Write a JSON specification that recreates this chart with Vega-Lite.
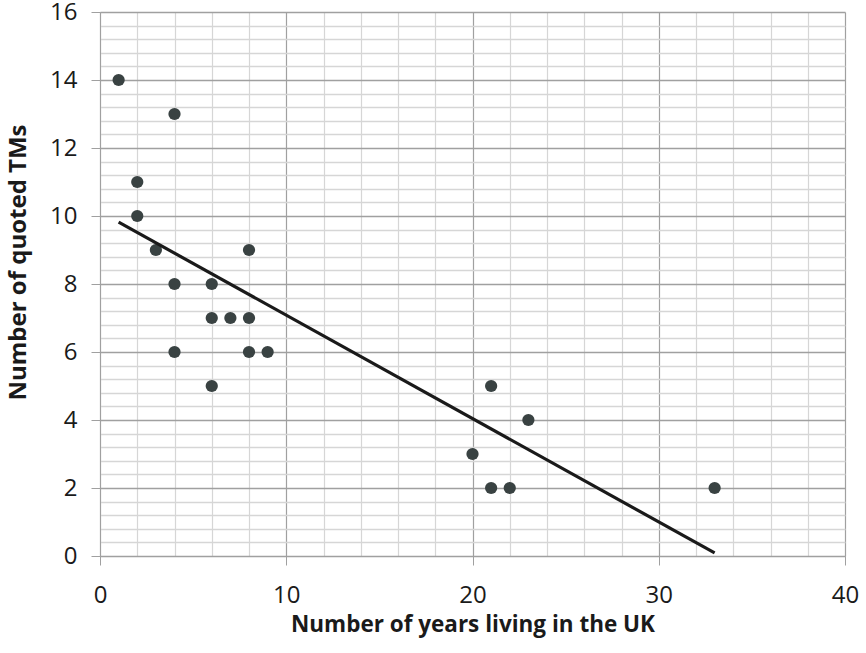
{
  "$schema": "https://vega.github.io/schema/vega-lite/v6.json",
  "width": 745,
  "height": 544,
  "autosize": {"type": "none"},
  "padding": {"left": 100, "top": 12, "right": 21, "bottom": 97},
  "background": "white",
  "config": {"view": {"stroke": null}},
  "datasets": {
    "points": [
      {"years": 1, "tms": 14},
      {"years": 4, "tms": 13},
      {"years": 2, "tms": 11},
      {"years": 2, "tms": 10},
      {"years": 3, "tms": 9},
      {"years": 4, "tms": 8},
      {"years": 4, "tms": 6},
      {"years": 6, "tms": 8},
      {"years": 6, "tms": 7},
      {"years": 7, "tms": 7},
      {"years": 8, "tms": 9},
      {"years": 8, "tms": 7},
      {"years": 8, "tms": 6},
      {"years": 9, "tms": 6},
      {"years": 6, "tms": 5},
      {"years": 20, "tms": 3},
      {"years": 21, "tms": 5},
      {"years": 21, "tms": 2},
      {"years": 22, "tms": 2},
      {"years": 23, "tms": 4},
      {"years": 33, "tms": 2}
    ],
    "trend": [
      {"years": 1, "tms": 9.82},
      {"years": 33, "tms": 0.09}
    ]
  },
  "encoding": {
    "x": {
      "field": "years", "type": "quantitative",
      "scale": {"domain": [0, 40], "nice": false, "zero": false},
      "axis": {
        "title": "Number of years living in the UK",
        "values": [0,2,4,6,8,10,12,14,16,18,20,22,24,26,28,30,32,34,36,38,40],
        "labelExpr": "datum.value % 10 === 0 ? datum.label : ''",
        "grid": true,
        "gridColor": {"condition": {"test": "datum.value % 10 === 0", "value": "#a0a0a0"}, "value": "#d6d6d6"},
        "gridWidth": 1.2,
        "tickOpacity": {"condition": {"test": "datum.value % 10 === 0", "value": 1}, "value": 0},
        "tickColor": "#a0a0a0",
        "tickSize": 9,
        "domainColor": "#a0a0a0",
        "labelFont": "Open Sans",
        "labelFontSize": 24,
        "labelColor": "#1a1a1a",
        "labelPadding": 18,
        "labelFlush": false,
        "labelOverlap": false,
        "titleFont": "Open Sans",
        "titleFontSize": 22.5,
        "titleFontWeight": "bold",
        "titleColor": "#1a1a1a",
        "titleBaseline": "alphabetic",
        "titleY": 75
      }
    },
    "y": {
      "field": "tms", "type": "quantitative",
      "scale": {"domain": [0, 16], "nice": false, "zero": false},
      "axis": {
        "title": "Number of quoted TMs",
        "values": [0,0.4,0.8,1.2,1.6,2,2.4,2.8,3.2,3.6,4,4.4,4.8,5.2,5.6,6,6.4,6.8,7.2,7.6,8,8.4,8.8,9.2,9.6,10,10.4,10.8,11.2,11.6,12,12.4,12.8,13.2,13.6,14,14.4,14.8,15.2,15.6,16],
        "labelExpr": "abs(datum.value/2 - round(datum.value/2)) < 0.001 ? format(datum.value, 'd') : ''",
        "grid": true,
        "gridColor": {"condition": {"test": "abs(datum.value/2 - round(datum.value/2)) < 0.001", "value": "#a0a0a0"}, "value": "#d6d6d6"},
        "gridWidth": 1.5,
        "tickOpacity": {"condition": {"test": "abs(datum.value/2 - round(datum.value/2)) < 0.001", "value": 1}, "value": 0},
        "tickColor": "#a0a0a0",
        "tickSize": 9,
        "domainColor": "#a0a0a0",
        "labelFont": "Open Sans",
        "labelFontSize": 24,
        "labelColor": "#1a1a1a",
        "labelPadding": 14,
        "labelFlush": false,
        "labelOverlap": false,
        "titleFont": "Open Sans",
        "titleFontSize": 24,
        "titleFontWeight": "bold",
        "titleColor": "#1a1a1a",
        "titleBaseline": "alphabetic",
        "titleAngle": 270,
        "titleX": -75,
        "titleY": 250
      }
    }
  },
  "layer": [
    {
      "data": {"name": "points"},
      "mark": {"type": "point", "filled": true, "size": 150, "color": "#394242", "opacity": 1}
    },
    {
      "data": {"name": "trend"},
      "mark": {"type": "line", "color": "#1a1a1a", "strokeWidth": 3.2}
    }
  ]
}
